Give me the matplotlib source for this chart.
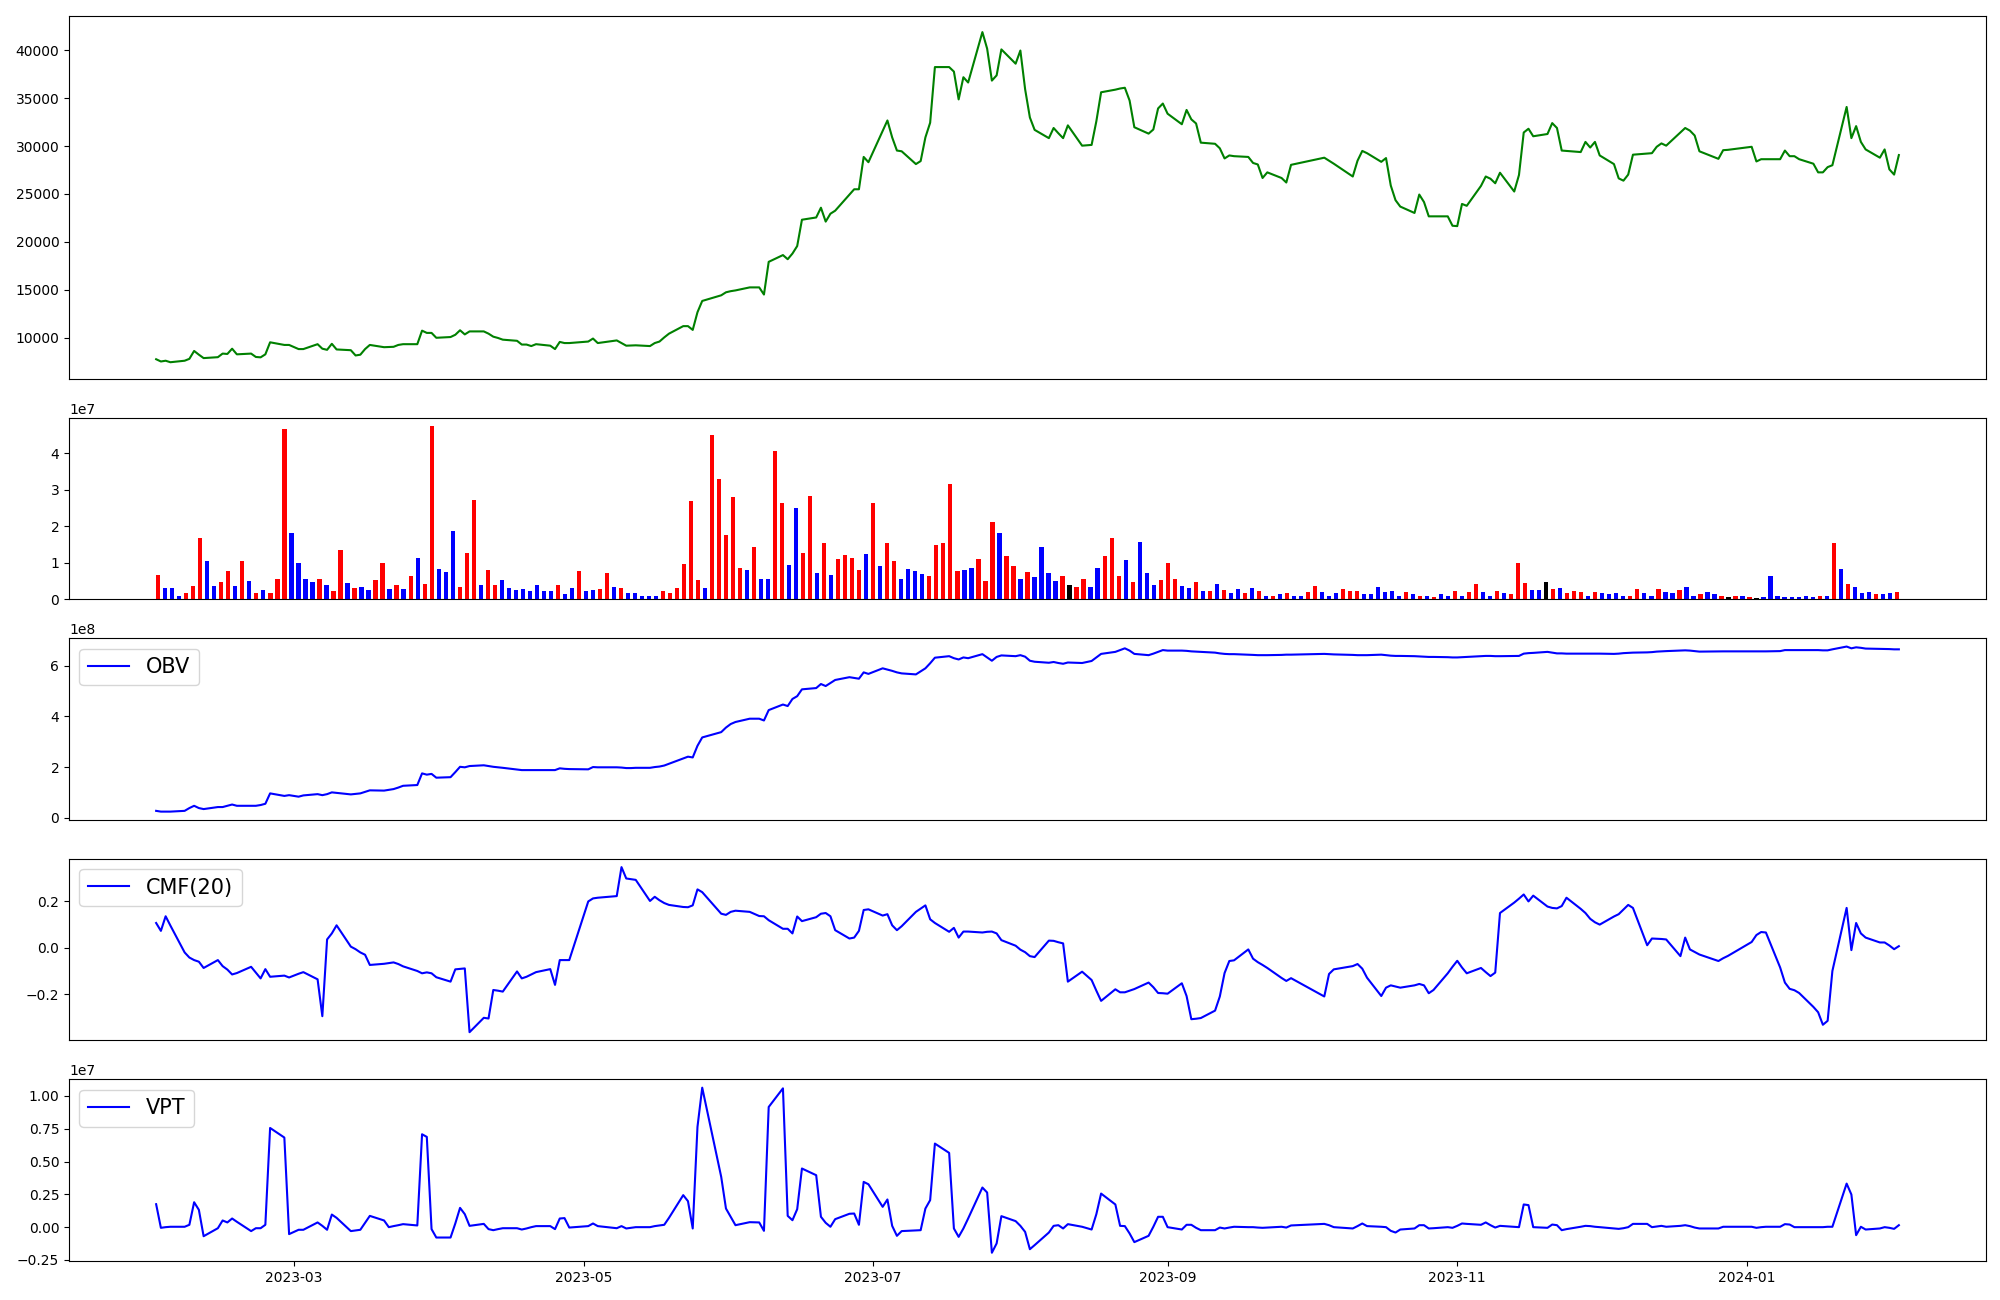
import matplotlib.pyplot as plt
import numpy as np
import pandas as pd

# KRX trading days, 2023-01-31 .. 2024-02-02
holidays = ['2023-03-01', '2023-05-01', '2023-05-05', '2023-05-29', '2023-06-06',
            '2023-08-15', '2023-09-28', '2023-09-29', '2023-10-02', '2023-10-03',
            '2023-10-09', '2023-12-25', '2023-12-29', '2024-01-01']
dates = pd.bdate_range('2023-01-31', '2024-02-02')
dates = dates[~dates.isin(pd.to_datetime(holidays))]

# closing price (one row per month)
close = [7787,
         7552, 7630, 7474, 7630, 7826, 8649, 8260, 7904, 8000, 8374, 8335, 8884, 8296, 8374, 8022, 7983, 8296, 9550, 9275, 9275,
         8844, 8844, 9354, 8884, 8766, 9393, 8805, 8727, 8179, 8257, 8844, 9275, 9040, 9060, 9080, 9275, 9354, 9354, 10764, 10529, 10529, 10020,
         10098, 10333, 10803, 10372, 10685, 10685, 10450, 10137, 10000, 9824, 9706, 9315, 9315, 9158, 9354, 9197, 8844, 9589, 9471, 9471,
         9628, 9941, 9471, 9745, 9471, 9197, 9220, 9236, 9158, 9471, 9628, 10059, 10450, 11234, 11234, 10842, 12683, 13858, 14446, 14759,
         14877, 14955, 15270, 15270, 14525, 17932, 18637, 18206, 18794, 19578, 22320, 22555, 23573, 22124, 22947, 23260, 24943, 25493, 25493, 28862, 28313,
         31560, 32661, 30898, 29527, 29449, 28117, 28430, 30898, 32426, 38223, 38223, 37753, 34854, 37165, 36616, 41866, 40143, 36813, 37361, 40064, 38576,
         39947, 35913, 32973, 31681, 30819, 31876, 31328, 30819, 32151, 30035, 30114, 32582, 35598, 35870, 35990, 36068, 34736, 31955, 31289, 31720, 33913, 34423,
         33365, 32268, 33757, 32777, 32347, 30349, 30231, 29761, 28704, 29017, 28940, 28861, 28234, 28077, 26667, 27254, 26667, 26197, 28038,
         28782, 28470, 28156, 26823, 28468, 29487, 29253, 28351, 28743, 25884, 24356, 23690, 23024, 24944, 24160, 22672, 22672, 22672, 21692,
         21653, 23964, 23768, 25844, 26823, 26589, 26119, 27215, 25257, 26981, 31406, 31798, 31015, 31250, 32386, 31876, 29526, 29487, 29369, 30427, 29840, 30427,
         29017, 28116, 26628, 26390, 27020, 29095, 29214, 29253, 29918, 30271, 30036, 31406, 31876, 31602, 31093, 29448, 28664, 29565, 29600,
         29918, 28390, 28625, 28625, 28625, 29526, 28939, 28939, 28625, 28155, 27254, 27254, 27800, 27998, 34070, 30819, 32072, 30427, 29644, 28782, 29644, 27568,
         27020, 29057]

# volume (x1e7), one bar per trading session, colour r=up b=down k=flat
volume = [0.66, 0.30, 0.30, 0.10, 0.17, 0.37, 1.69, 1.06, 0.36, 0.47,
          0.77, 0.36, 1.06, 0.49, 0.17, 0.25, 0.17, 0.57, 4.66, 1.81,
          0.99, 0.57, 0.47, 0.57, 0.39, 0.22, 1.36, 0.44, 0.30, 0.33,
          0.25, 0.52, 0.99, 0.27, 0.39, 0.27, 0.65, 1.14, 0.42, 4.74,
          0.83, 0.74, 1.86, 0.33, 1.27, 2.72, 0.39, 0.80, 0.39, 0.52,
          0.30, 0.25, 0.27, 0.22, 0.39, 0.22, 0.22, 0.39, 0.14, 0.30,
          0.77, 0.22, 0.25, 0.27, 0.72, 0.33, 0.30, 0.17, 0.17, 0.10,
          0.08, 0.10, 0.22, 0.17, 0.30, 0.97, 2.69, 0.52, 0.30, 4.50,
          3.30, 1.75, 2.81, 0.86, 0.80, 1.44, 0.55, 0.57, 4.07, 2.64,
          0.94, 2.51, 1.27, 2.83, 0.72, 1.53, 0.66, 1.11, 1.22, 1.14,
          0.80, 1.24, 2.64, 0.91, 1.53, 1.06, 0.57, 0.83, 0.77, 0.69,
          0.64, 1.49, 1.55, 3.16, 0.77, 0.80, 0.86, 1.11, 0.49, 2.13,
          1.83, 1.19, 0.91, 0.57, 0.74, 0.61, 1.44, 0.72, 0.49, 0.64,
          0.39, 0.33, 0.55, 0.33, 0.86, 1.19, 1.69, 0.64, 1.08, 0.47,
          1.58, 0.72, 0.39, 0.52, 0.99, 0.55, 0.36, 0.30, 0.47, 0.22,
          0.22, 0.42, 0.25, 0.17, 0.27, 0.17, 0.30, 0.22, 0.10, 0.08,
          0.14, 0.17, 0.08, 0.10, 0.19, 0.36, 0.19, 0.10, 0.17, 0.27,
          0.22, 0.22, 0.14, 0.14, 0.33, 0.19, 0.22, 0.10, 0.19, 0.14,
          0.10, 0.10, 0.05, 0.14, 0.08, 0.22, 0.10, 0.19, 0.42, 0.19,
          0.10, 0.22, 0.17, 0.14, 0.99, 0.44, 0.25, 0.25, 0.47, 0.27,
          0.30, 0.17, 0.22, 0.19, 0.10, 0.19, 0.17, 0.14, 0.17, 0.10,
          0.10, 0.27, 0.17, 0.10, 0.27, 0.19, 0.17, 0.25, 0.33, 0.10,
          0.14, 0.19, 0.14, 0.08, 0.05, 0.10, 0.10, 0.05, 0.03, 0.05,
          0.64, 0.10, 0.05, 0.05, 0.05, 0.10, 0.05, 0.08, 0.08, 1.53,
          0.83, 0.42, 0.33, 0.17, 0.19, 0.14, 0.14, 0.17, 0.19]
vol_dir = ("rbbbrrrbbr" "rbrbrbrrrb" "bbbrbrrbrb" "brrbrbrbrr" "bbbrrrbrrb"
           "bbbbbbbrbb" "rbbrrbrbbb" "bbrrrrrrbr" "rrrrbrbbrr" "bbrrbrbrrr"
           "rbrbrrbbbb" "rrrrrbbrrr" "brrbrbbbbr" "krrbbrrrbr" "bbbrrrbbrb"
           "rbrbbrbrbr" "brbbrrbbbr" "rrbbbbbbrb" "rbrbbrbrrb" "brbrrrbbkr"
           "brrrbrbbbb" "rrbbrbbrbb" "rbbrkrbrkb" "bbbbbbbrbr" "brbbbrbbr")

# on-balance volume (x1e8)
obv = [0.27,
       0.24, 0.24, 0.24, 0.27, 0.38, 0.47, 0.38, 0.34, 0.42, 0.42, 0.47, 0.52, 0.47, 0.47, 0.47, 0.50, 0.55, 0.96, 0.86, 0.89,
       0.83, 0.88, 0.93, 0.89, 0.93, 1.00, 0.98, 0.92, 0.94, 0.96, 1.02, 1.08, 1.07, 1.10, 1.13, 1.19, 1.26, 1.29, 1.75, 1.70, 1.73, 1.58,
       1.60, 1.80, 2.01, 1.99, 2.04, 2.07, 2.04, 2.01, 1.99, 1.97, 1.90, 1.88, 1.88, 1.88, 1.88, 1.88, 1.88, 1.95, 1.93, 1.92,
       1.91, 2.00, 1.99, 1.99, 1.98, 1.96, 1.96, 1.97, 1.97, 2.00, 2.02, 2.06, 2.13, 2.34, 2.41, 2.38, 2.84, 3.17, 3.38, 3.56,
       3.70, 3.78, 3.91, 3.91, 3.84, 4.25, 4.47, 4.41, 4.69, 4.80, 5.07, 5.12, 5.28, 5.20, 5.32, 5.44, 5.55, 5.52, 5.49, 5.74, 5.68,
       5.90, 5.85, 5.80, 5.74, 5.70, 5.66, 5.78, 5.90, 6.10, 6.32, 6.38, 6.30, 6.25, 6.33, 6.30, 6.46, 6.33, 6.20, 6.35, 6.41, 6.38,
       6.42, 6.36, 6.20, 6.16, 6.12, 6.15, 6.11, 6.08, 6.13, 6.11, 6.19, 6.33, 6.47, 6.55, 6.62, 6.69, 6.60, 6.47, 6.42, 6.48, 6.55, 6.62,
       6.60, 6.60, 6.59, 6.57, 6.56, 6.55, 6.52, 6.49, 6.47, 6.46, 6.46, 6.44, 6.43, 6.42, 6.42, 6.42, 6.43, 6.44, 6.44,
       6.47, 6.46, 6.45, 6.43, 6.42, 6.42, 6.42, 6.44, 6.42, 6.40, 6.39, 6.39, 6.38, 6.37, 6.36, 6.35, 6.35, 6.34, 6.33,
       6.33, 6.34, 6.35, 6.38, 6.39, 6.39, 6.38, 6.38, 6.39, 6.39, 6.48, 6.50, 6.51, 6.55, 6.52, 6.49, 6.49, 6.48, 6.48, 6.48, 6.48, 6.48,
       6.48, 6.47, 6.48, 6.50, 6.51, 6.52, 6.53, 6.54, 6.56, 6.57, 6.58, 6.60, 6.61, 6.60, 6.58, 6.56, 6.57, 6.57, 6.57,
       6.57, 6.57, 6.57, 6.57, 6.58, 6.62, 6.62, 6.62, 6.62, 6.62, 6.62, 6.61, 6.61, 6.65, 6.76, 6.69, 6.73, 6.71, 6.68, 6.67, 6.67, 6.66,
       6.65, 6.65]

# Chaikin money flow, 20 days
cmf = [0.107,
       0.073, 0.136, 0.096, -0.020, -0.042, -0.053, -0.060, -0.087, -0.053, -0.079, -0.094, -0.115, -0.109, -0.082, -0.107, -0.132, -0.092, -0.125, -0.120, -0.128,
       -0.112, -0.105, -0.136, -0.295, 0.036, 0.062, 0.097, 0.005, -0.006, -0.020, -0.030, -0.074, -0.069, -0.066, -0.063, -0.070, -0.080, -0.100, -0.110, -0.106, -0.110, -0.127,
       -0.146, -0.093, -0.091, -0.089, -0.364, -0.302, -0.305, -0.182, -0.185, -0.189, -0.102, -0.132, -0.125, -0.115, -0.105, -0.092, -0.160, -0.053, -0.053, -0.053,
       0.200, 0.213, 0.216, 0.223, 0.348, 0.299, 0.296, 0.293, 0.202, 0.220, 0.205, 0.193, 0.185, 0.176, 0.175, 0.183, 0.252, 0.240, 0.147, 0.142,
       0.155, 0.160, 0.155, 0.137, 0.136, 0.119, 0.082, 0.082, 0.062, 0.135, 0.115, 0.132, 0.147, 0.150, 0.136, 0.076, 0.040, 0.044, 0.073, 0.163, 0.166,
       0.139, 0.145, 0.097, 0.076, 0.093, 0.155, 0.169, 0.183, 0.123, 0.107, 0.069, 0.086, 0.044, 0.070, 0.070, 0.066, 0.069, 0.070, 0.062, 0.033, 0.009,
       -0.008, -0.019, -0.036, -0.040, 0.031, 0.030, 0.024, 0.019, -0.146, -0.103, -0.139, -0.185, -0.229, -0.179, -0.192, -0.192, -0.185, -0.178, -0.150, -0.170, -0.195, -0.196,
       -0.198, -0.153, -0.208, -0.308, -0.306, -0.303, -0.271, -0.210, -0.109, -0.057, -0.054, -0.007, -0.047, -0.062, -0.074, -0.087, -0.130, -0.143, -0.131,
       -0.210, -0.113, -0.093, -0.079, -0.070, -0.090, -0.129, -0.208, -0.172, -0.162, -0.167, -0.172, -0.162, -0.156, -0.162, -0.196, -0.182, -0.110, -0.082,
       -0.056, -0.085, -0.110, -0.087, -0.105, -0.122, -0.107, 0.150, 0.195, 0.212, 0.230, 0.200, 0.225, 0.178, 0.172, 0.170, 0.180, 0.216, 0.168, 0.150, 0.125, 0.110,
       0.100, 0.135, 0.145, 0.165, 0.185, 0.172, 0.011, 0.040, 0.039, 0.038, 0.036, -0.036, 0.044, -0.007, -0.018, -0.029, -0.057, -0.045, -0.035,
       0.025, 0.055, 0.068, 0.066, -0.085, -0.150, -0.177, -0.183, -0.195, -0.255, -0.278, -0.332, -0.315, -0.100, 0.172, -0.010, 0.107, 0.062, 0.044, 0.023, 0.023, 0.010,
       -0.006, 0.007]

# volume price trend (x1e7)
vpt = [0.175,
       -0.005, 0.0, 0.003, 0.003, 0.018, 0.190, 0.132, -0.069, -0.008, 0.051, 0.036, 0.066, 0.041, -0.030, -0.008, -0.008, 0.018, 0.756, 0.683, -0.053,
       -0.020, -0.020, 0.036, 0.010, -0.020, 0.096, 0.071, -0.030, -0.025, -0.020, 0.033, 0.086, 0.051, 0.0, 0.008, 0.015, 0.023, 0.013, 0.708, 0.688, -0.015, -0.079,
       -0.079, 0.028, 0.147, 0.099, 0.010, 0.025, -0.015, -0.023, -0.015, -0.008, -0.008, -0.018, -0.010, 0.0, 0.008, 0.008, -0.015, 0.066, 0.069, -0.003,
       0.008, 0.028, 0.008, -0.008, 0.008, -0.010, -0.005, 0.0, 0.0, 0.008, 0.013, 0.018, 0.071, 0.244, 0.198, -0.010, 0.764, 1.063, 0.383, 0.142,
       0.079, 0.015, 0.038, 0.036, -0.028, 0.916, 1.058, 0.086, 0.053, 0.137, 0.447, 0.396, 0.079, 0.033, 0.003, 0.061, 0.102, 0.104, 0.018, 0.345, 0.327,
       0.155, 0.211, 0.010, -0.066, -0.030, -0.025, -0.023, 0.142, 0.206, 0.637, 0.566, -0.010, -0.074, -0.010, 0.066, 0.302, 0.264, -0.195, -0.124, 0.084, 0.046,
       0.010, -0.036, -0.168, -0.137, -0.041, 0.010, 0.015, -0.010, 0.023, 0.003, -0.018, 0.099, 0.256, 0.173, 0.010, 0.008, -0.048, -0.114, -0.066, 0.003, 0.079, 0.079,
       0.0, -0.018, 0.018, 0.018, -0.005, -0.023, -0.023, -0.003, -0.010, -0.003, 0.003, 0.0, 0.0, -0.003, -0.005, -0.003, 0.003, -0.003, 0.013,
       0.025, 0.015, 0.0, -0.010, 0.008, 0.028, 0.008, 0.003, 0.0, -0.028, -0.041, -0.018, -0.010, 0.015, 0.015, -0.010, -0.008, 0.0, -0.005,
       0.010, 0.028, 0.025, 0.018, 0.036, 0.015, -0.003, 0.010, 0.003, 0.0, 0.173, 0.168, 0.0, -0.005, 0.020, 0.015, -0.023, -0.015, 0.003, 0.010, 0.008, 0.003,
       0.0, -0.010, -0.013, -0.008, 0.0, 0.025, 0.025, 0.0, 0.005, 0.010, 0.003, 0.010, 0.015, 0.008, -0.003, -0.010, -0.010, 0.003, 0.003,
       0.003, -0.005, 0.0, 0.003, 0.003, 0.023, 0.020, 0.0, 0.0, 0.0, 0.0, 0.0, 0.003, 0.003, 0.332, 0.249, -0.061, 0.003, -0.018, -0.010, 0.0, -0.005,
       -0.013, 0.015]

assert len(close) == len(obv) == len(cmf) == len(vpt) == len(dates)
assert len(volume) == len(vol_dir)

colour = {'r': 'red', 'b': 'blue', 'k': 'black'}

fig, ax = plt.subplots(5, 1, figsize=(20, 13),
                       gridspec_kw=dict(height_ratios=[2, 1, 1, 1, 1], hspace=0.179,
                                        left=0.0345, right=0.993, top=0.988, bottom=0.030))

ax[0].plot(dates, close, color='green')

ax[1].bar(np.arange(len(volume)), np.array(volume) * 1e7, width=0.6,
          color=[colour[c] for c in vol_dir])

ax[2].plot(dates, np.array(obv) * 1e8, color='blue', label='OBV')
ax[2].legend(loc='upper left', fontsize=15)

ax[3].plot(dates, cmf, color='blue', label='CMF(20)')
ax[3].legend(loc='upper left', fontsize=15)

ax[4].plot(dates, np.array(vpt) * 1e7, color='blue', label='VPT')
ax[4].legend(loc='upper left', fontsize=15)

for a in ax[:4]:
    a.set_xticks([])

plt.savefig('out.png', dpi=100)
